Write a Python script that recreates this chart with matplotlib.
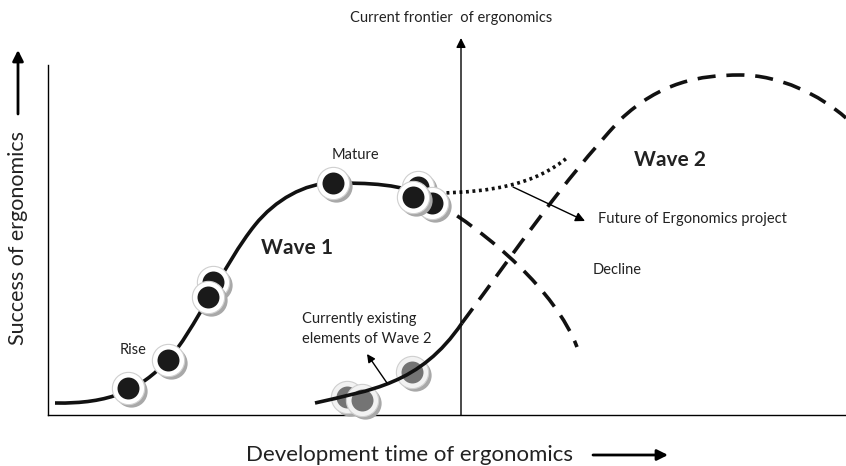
import numpy as np
import matplotlib.pyplot as plt
from matplotlib.path import Path
from matplotlib.patches import PathPatch

plt.rcParams['font.family'] = ['Lato', 'DejaVu Sans']

# canvas in pixel units (y grows downward)
W, H = 846, 466

# curve control points (cubic bezier: start, then c1, c2, end per segment)
wave1_solid = [(55, 403), (110, 404), (140, 390), (168, 360),
               (193, 333), (225, 262), (255, 225),
               (275, 200), (305, 183), (333, 183),
               (365, 183), (405, 183), (433, 200)]
wave1_decline = [(433, 200), (490, 235), (555, 290), (577, 347)]
wave2_solid = [(315, 403), (370, 390), (420, 385), (462, 323)]
wave2_dashed = [(462, 323), (520, 245), (560, 185), (620, 120),
                (660, 82), (700, 75), (740, 75),
                (780, 75), (820, 95), (846, 118)]
future_dotted = [(440, 193), (490, 192), (535, 185), (568, 157)]

# dots (existing elements)
wave1_dots_x = [128, 168, 213, 208, 333, 418, 432, 413]
wave1_dots_y = [388, 360, 282, 297, 183, 187, 203, 197]
wave2_dots_x = [347, 362, 412]
wave2_dots_y = [397, 400, 372]

SMALL = 10.5
TXT = "#222222"


def bezier_path(pts):
    codes = [Path.MOVETO] + [Path.CURVE4] * (len(pts) - 1)
    return Path(pts, codes)


fig = plt.figure(figsize=(8.46, 4.66), dpi=100)
ax = fig.add_axes([0, 0, 1, 1])
ax.set_xlim(0, W)
ax.set_ylim(H, 0)
ax.axis("off")

# axes lines
ax.plot([48, 48], [65, 415], color="black", lw=1.0)
ax.plot([48, 846], [415, 415], color="black", lw=1.0)

# current frontier
ax.annotate("", xy=(461, 38), xytext=(461, 415),
            arrowprops=dict(arrowstyle="-|>", color="black", lw=1.0,
                            mutation_scale=14, shrinkA=0, shrinkB=0))
ax.text(451, 18, "Current frontier  of ergonomics", fontsize=SMALL,
        ha="center", va="center", color=TXT)

# curves
ax.add_patch(PathPatch(bezier_path(wave1_solid), fc="none", ec="#111111",
                       lw=2.6, zorder=2))
ax.add_patch(PathPatch(bezier_path(wave1_decline), fc="none", ec="#111111",
                       lw=2.6, ls=(0, (5, 3)), zorder=2))
ax.add_patch(PathPatch(bezier_path(wave2_dashed), fc="none", ec="#111111",
                       lw=2.6, ls=(0, (5, 3)), zorder=2))
ax.add_patch(PathPatch(bezier_path(future_dotted), fc="none", ec="#111111",
                       lw=2.6, ls=(0, (0.8, 1.0)), zorder=2))

# wave 1 dots
sx = np.array(wave1_dots_x)
sy = np.array(wave1_dots_y)
for i in range(len(sx)):
    z = 3 + i * 0.1
    ax.scatter(sx[i] + 3, sy[i] + 3, s=540, color="#a8a8a8", lw=0, zorder=z)
    ax.scatter(sx[i], sy[i], s=540, color="white", edgecolor="#cfcfcf",
               lw=0.8, zorder=z + 0.01)
    ax.scatter(sx[i], sy[i], s=250, color="#1a1a1a", lw=0, zorder=z + 0.02)

# wave 2 dots
gx = np.array(wave2_dots_x)
gy = np.array(wave2_dots_y)
for i in range(len(gx)):
    z = 3 + i * 0.1
    ax.scatter(gx[i] + 3, gy[i] + 3, s=540, color="#a8a8a8", lw=0, zorder=z)
    ax.scatter(gx[i], gy[i], s=540, color="#f2f2f2", edgecolor="#cfcfcf",
               lw=0.8, zorder=z + 0.01)
    ax.scatter(gx[i], gy[i], s=250, color="#747474", lw=0, zorder=z + 0.02)
ax.add_patch(PathPatch(bezier_path(wave2_solid), fc="none", ec="#111111",
                       lw=2.6, zorder=5))

# labels on the chart
ax.text(133, 350, "Rise", fontsize=SMALL, ha="center", va="center", color=TXT)
ax.text(355, 155, "Mature", fontsize=SMALL, ha="center", va="center", color=TXT)
ax.text(297, 248, "Wave 1", fontsize=15, fontweight="bold", ha="center",
        va="center", color=TXT)
ax.text(670, 160, "Wave 2", fontsize=15, fontweight="bold", ha="center",
        va="center", color=TXT)
ax.text(593, 270, "Decline", fontsize=SMALL, ha="left", va="center", color=TXT)
ax.text(598, 219, "Future of Ergonomics project", fontsize=SMALL, ha="left",
        va="center", color=TXT)
ax.text(302, 329, "Currently existing\nelements of Wave 2", fontsize=SMALL,
        ha="left", va="center", linespacing=1.55, color=TXT)

# small arrows
ax.annotate("", xy=(585, 221), xytext=(513, 187),
            arrowprops=dict(arrowstyle="-|>", color="black", lw=1.0,
                            mutation_scale=14, shrinkA=0, shrinkB=0), zorder=6)
ax.annotate("", xy=(367, 354), xytext=(387, 383),
            arrowprops=dict(arrowstyle="-|>", color="black", lw=1.0,
                            mutation_scale=12, shrinkA=0, shrinkB=0), zorder=6)

# axis titles with arrows
ax.text(410, 455, "Development time of ergonomics", fontsize=16,
        ha="center", va="center", color=TXT)
ax.annotate("", xy=(668, 455), xytext=(593, 455),
            arrowprops=dict(arrowstyle="-|>", color="black", lw=2.0,
                            mutation_scale=16, shrinkA=0, shrinkB=0))
ax.text(18, 238, "Success of ergonomics", fontsize=15.5, rotation=90,
        ha="center", va="center", color=TXT)
ax.annotate("", xy=(18, 50), xytext=(18, 114),
            arrowprops=dict(arrowstyle="-|>", color="black", lw=2.0,
                            mutation_scale=16, shrinkA=0, shrinkB=0))

fig.savefig("out.png", dpi=100)
